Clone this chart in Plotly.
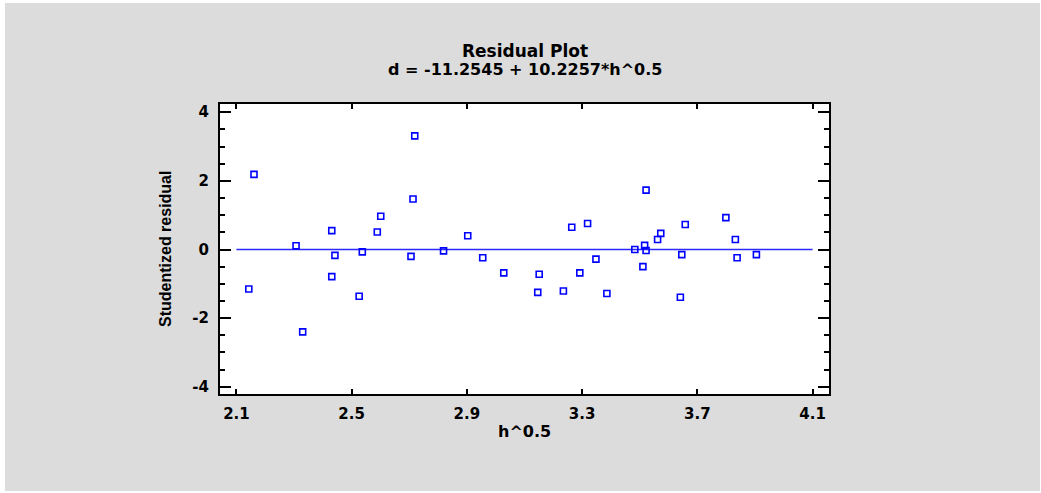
import plotly.graph_objects as go

# ---- data ----
h_sqrt = [2.143, 2.161, 2.307, 2.330, 2.431, 2.431, 2.442, 2.537, 2.526, 2.589,
          2.601, 2.706, 2.713, 2.719, 2.819, 2.903, 2.955, 3.028, 3.151, 3.146,
          3.235, 3.264, 3.292, 3.319, 3.348, 3.386, 3.483, 3.517, 3.522, 3.511,
          3.522, 3.562, 3.573, 3.646, 3.641, 3.658, 3.799, 3.832, 3.838, 3.905]
stud_resid = [-1.15, 2.19, 0.11, -2.40, 0.55, -0.79, -0.17, -0.07, -1.36, 0.51,
              0.97, -0.20, 1.47, 3.31, -0.04, 0.40, -0.24, -0.68, -0.72, -1.25,
              -1.21, 0.65, -0.68, 0.76, -0.28, -1.28, 0.00, 0.12, -0.03, -0.50,
              1.73, 0.29, 0.47, -0.15, -1.39, 0.73, 0.93, 0.29, -0.24, -0.15]
zero_x = [2.1, 4.1]
zero_y = [0.0, 0.0]
x_ticks = [2.1, 2.5, 2.9, 3.3, 3.7, 4.1]
x_tick_text = ["2.1", "2.5", "2.9", "3.3", "3.7", "4.1"]
y_ticks = [-4, -2, 0, 2, 4]
y_tick_text = ["-4", "-2", "0", "2", "4"]

title_line1 = "Residual Plot"
title_line2 = "d = -11.2545 + 10.2257*h^0.5"
x_title = "h^0.5"
y_title = "Studentized residual"

WIDE = "DejaVu Sans"
NARROW = "Liberation Sans, Arial"

fig = go.Figure()
fig.add_trace(go.Scatter(x=zero_x, y=zero_y, mode="lines",
                         line=dict(color="#2a2aff", width=1.4), hoverinfo="skip",
                         showlegend=False))
fig.add_trace(go.Scatter(x=h_sqrt, y=stud_resid, mode="markers",
                         marker=dict(symbol="square-open", size=6,
                                     color="#0000ff", line=dict(width=1.6, color="#0000ff")),
                         showlegend=False))

axis_common = dict(showgrid=False, zeroline=False, showline=True, linecolor="black",
                   linewidth=2, mirror="ticks", ticks="inside", tickcolor="black",
                   tickwidth=1.5,
                   tickfont=dict(family=WIDE, size=15, color="black", weight="bold"))

fig.update_xaxes(range=[2.043, 4.157], tickmode="array", tickvals=x_ticks,
                 ticktext=x_tick_text, ticklen=5, ticklabelstandoff=5, **axis_common)
fig.update_yaxes(range=[-4.21, 4.24], tickmode="array", tickvals=y_ticks,
                 ticktext=y_tick_text, ticklen=11, ticklabelstandoff=6,
                 minor=dict(dtick=0.5, tick0=0, ticklen=5, ticks="inside",
                            tickcolor="black", tickwidth=1.5, showgrid=False),
                 **axis_common)

fig.update_layout(
    width=1041, height=493,
    margin=dict(l=220, r=212, t=104, b=99),
    paper_bgcolor="white", plot_bgcolor="white",
    shapes=[
        dict(type="rect", xref="paper", yref="paper", x0=-0.353, x1=1.3465,
             y0=-0.3345, y1=1.348, fillcolor="#dcdcdc", line=dict(width=0), layer="below"),
        dict(type="rect", xref="paper", yref="paper", x0=0, x1=1, y0=0, y1=1,
             fillcolor="white", line=dict(width=0), layer="below"),
    ],
    annotations=[
        dict(text=title_line1, xref="paper", yref="paper", x=0.5, y=1.184,
             xanchor="center", yanchor="middle", showarrow=False,
             font=dict(family=WIDE, size=17, color="black", weight="bold")),
        dict(text=title_line2, xref="paper", yref="paper", x=0.5, y=1.12,
             xanchor="center", yanchor="middle", showarrow=False,
             font=dict(family=WIDE, size=16, color="black", weight="bold")),
        dict(text=x_title, xref="paper", yref="paper", x=0.5, y=-0.13,
             xanchor="center", yanchor="middle", showarrow=False,
             font=dict(family=WIDE, size=16, color="black", weight="bold")),
        dict(text=y_title, xref="paper", yref="paper", x=-0.0903, y=0.5,
             xanchor="center", yanchor="middle", showarrow=False, textangle=-90,
             font=dict(family=NARROW, size=16, color="black", weight="bold")),
    ],
)

fig.write_html("out.html")
